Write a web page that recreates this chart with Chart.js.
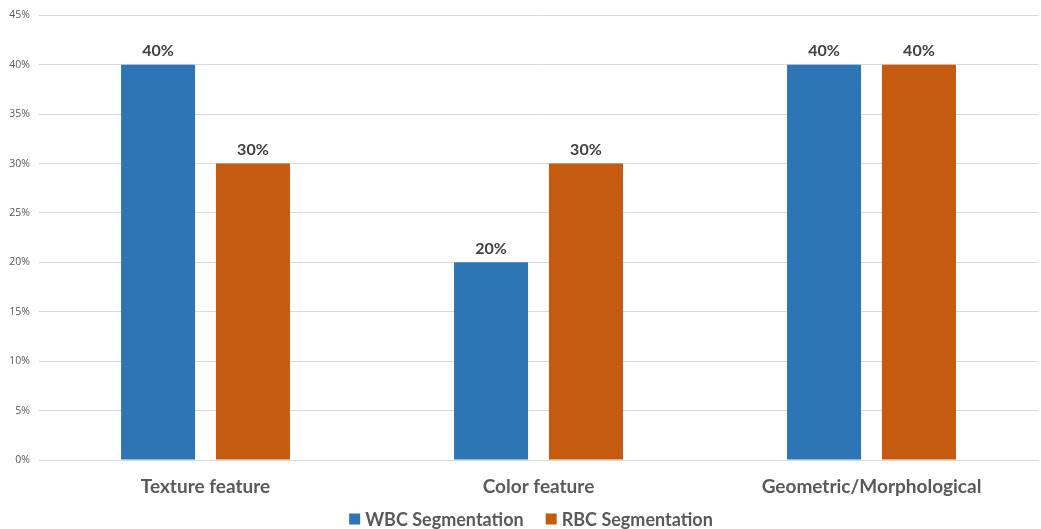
<!DOCTYPE html>
<html><head><meta charset="utf-8">
<script src="https://cdn.jsdelivr.net/npm/chart.js@4"></script>
<style>html,body{margin:0;padding:0;background:#fff}#wrap{width:1041px;height:529px}</style>
</head><body><div id="wrap"><canvas id="c" width="1041" height="529"></canvas></div>
<script>
const categories = ["Texture feature", "Color feature", "Geometric/Morphological"];
const wbcValues = [40, 20, 40];
const rbcValues = [30, 30, 40];
const seriesNames = ["WBC Segmentation", "RBC Segmentation"];
const seriesColors = ["#2E75B6", "#C55A11"];
const yTicks = [0, 5, 10, 15, 20, 25, 30, 35, 40, 45];

const FONT = 'Lato, "Open Sans", sans-serif';

const labelPlugin = {
  id: 'barLabels',
  afterDatasetsDraw(chart) {
    const ctx = chart.ctx;
    ctx.save();
    ctx.font = 'bold 16px ' + FONT;
    ctx.fillStyle = '#404040';
    ctx.textAlign = 'center';
    ctx.textBaseline = 'bottom';
    chart.data.datasets.forEach((ds, i) => {
      chart.getDatasetMeta(i).data.forEach((bar, j) => {
        ctx.fillText(ds.data[j] + '%', bar.x, bar.y - 6);
      });
    });
    ctx.restore();
  }
};

const legendPlugin = {
  id: 'customLegend',
  afterDraw(chart) {
    const ctx = chart.ctx;
    ctx.save();
    ctx.font = 'bold 18px ' + FONT;
    ctx.textBaseline = 'middle';
    const box = 11, gap = 5, spacing = 22;
    const items = chart.data.datasets.map(ds => ({text: ds.label, color: ds.backgroundColor, w: ctx.measureText(ds.label).width}));
    let total = items.reduce((s, it) => s + box + gap + it.w, 0) + spacing * (items.length - 1);
    let x = 531 - total / 2;
    const y = 519;
    items.forEach(it => {
      ctx.fillStyle = it.color;
      ctx.fillRect(x, y - box / 2, box, box);
      x += box + gap;
      ctx.fillStyle = '#595959';
      ctx.textAlign = 'left';
      ctx.fillText(it.text, x, y + 1);
      x += it.w + spacing;
    });
    ctx.restore();
  }
};

new Chart(document.getElementById('c'), {
  type: 'bar',
  data: {
    labels: categories,
    datasets: [
      {label: seriesNames[0], data: wbcValues, backgroundColor: seriesColors[0], categoryPercentage: 0.57, barPercentage: 0.78},
      {label: seriesNames[1], data: rbcValues, backgroundColor: seriesColors[1], categoryPercentage: 0.57, barPercentage: 0.78}
    ]
  },
  options: {
    responsive: false,
    animation: false,
    layout: {padding: {top: 12, right: 3, left: 0, bottom: 0}},
    plugins: {
      legend: {display: false},
      tooltip: {enabled: false}
    },
    scales: {
      x: {
        grid: {display: false, drawTicks: false},
        border: {color: '#d9d9d9'},
        afterFit(axis) { axis.height = 69; },
        ticks: {color: '#595959', font: {size: 19, weight: 'bold', family: FONT}, padding: 15}
      },
      y: {
        min: 0, max: 45,
        afterBuildTicks(axis) { axis.ticks = yTicks.map(v => ({value: v})); },
        afterFit(axis) { axis.width = 39; },
        grid: {color: '#d9d9d9', drawTicks: false},
        border: {display: false},
        ticks: {color: '#595959', font: {size: 10.5, family: '"Open Sans", sans-serif'}, padding: 9, callback: v => v + '%'}
      }
    }
  },
  plugins: [labelPlugin, legendPlugin]
});
</script></body></html>
